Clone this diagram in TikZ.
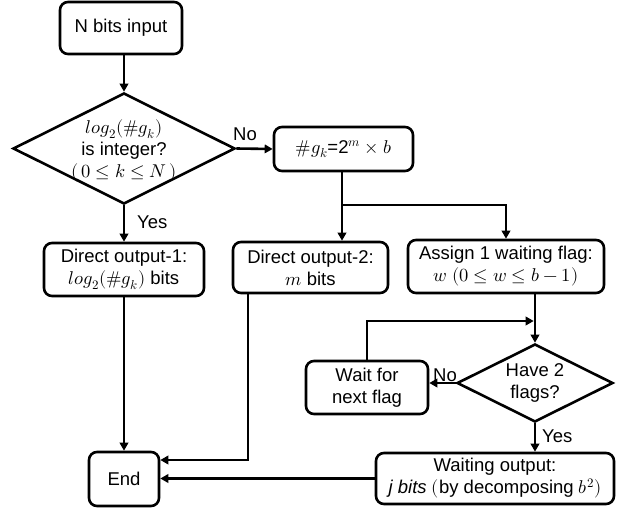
\documentclass[tikz,border=0pt]{standalone}
\usepackage{unicode-math}
\setmainfont{Liberation Sans}
\setmathfont{Latin Modern Math}
\usetikzlibrary{arrows.meta,shapes.geometric}
\begin{document}
\begin{tikzpicture}[x=1pt,y=-1pt,
  every node/.style={font=\fontsize{18.5}{22}\selectfont},
  box/.style={draw,line width=2.6pt,rounded corners=8pt,align=center,inner sep=0pt},
  dia/.style={draw,line width=2.6pt,diamond,inner sep=0pt,aspect=2},
  lbl/.style={inner sep=0pt,align=center},
  conn/.style={line width=2.6pt,-{Triangle[length=8pt,width=8.5pt]}},
  plain/.style={line width=2.6pt}
]
\useasboundingbox (0,0) rectangle (635,514);
% nodes
\node[box,minimum width=122pt,minimum height=52pt] (in) at (121,28) {N bits input};
\node[dia,minimum width=222pt,minimum height=111pt] (d1) at (124,148.5) {};
\node[lbl] (d1t) at (124,151) {$log_2(\#g_k)$\\is integer?\\$(\,0\le k\le N\,)$};
\node[box,minimum width=139pt,minimum height=44pt] (gk) at (343.5,149) {$\#g_k$=2$^m\times b$};
\node[box,minimum width=160pt,minimum height=53pt] (o1) at (124,269.5) {Direct output-1:\\$log_2(\#g_k)$ bits};
\node[box,minimum width=155pt,minimum height=51pt] (o2) at (310.5,267.5) {Direct output-2:\\$m$ bits};
\node[box,minimum width=196pt,minimum height=53pt] (as) at (506,266.5) {Assign 1 waiting flag:\\$w\ (0\le w\le b-1)$};
\node[dia,minimum width=156pt,minimum height=78pt] (d2) at (535,383) {};
\node[lbl] (d2t) at (535,383) {Have 2\\flags?};
\node[box,minimum width=122pt,minimum height=53pt] (wt) at (367,387.5) {Wait for\\next flag};
\node[box,minimum width=238pt,minimum height=51pt] (wo) at (495,478.5) {Waiting output:\\\textit{j bits} $(\mathrm{by\ decomposing}\ b^2)$};
\node[box,minimum width=70pt,minimum height=54pt] (end) at (124,479) {End};
% labels
\node[lbl,anchor=south west] (no1) at (233,141) {No};
\node[lbl,anchor=west] (yes1) at (137,222) {Yes};
\node[lbl,anchor=south east] (no2) at (457,382) {No};
\node[lbl,anchor=west] (yes2) at (542,436) {Yes};
% coordinates
\coordinate (j1) at (342,205);
\coordinate (c2) at (248,460);
\coordinate (lp) at (367,321);
% connectors
\draw[conn] (d1.north |- in.south) -- (d1.north);
\draw[conn] (d1.east) -- (gk.west);
\draw[conn] (d1.south) -- (o1.north);
\draw[plain] (j1 |- gk.south) -- (j1);
\draw[conn] (j1) -- (j1 |- o2.north);
\draw[conn] (j1) -| (as.north);
\draw[conn] (o1.south) -- (end.north);
\draw[conn] (c2 |- o2.south) -- (c2) -- (c2 -| end.east);
\draw[conn] (wo.west) -- (wo.west -| end.east);
\draw[conn] (as.south -| d2.north) -- (d2.north);
\draw[conn] (d2.west) -- (d2.west -| wt.east);
\draw[conn] (wt.north) -- (lp) -- ([xshift=-1.3pt]lp -| d2.north);
\draw[conn] (d2.south) -- (d2.south |- wo.north);
\end{tikzpicture}
\end{document}
